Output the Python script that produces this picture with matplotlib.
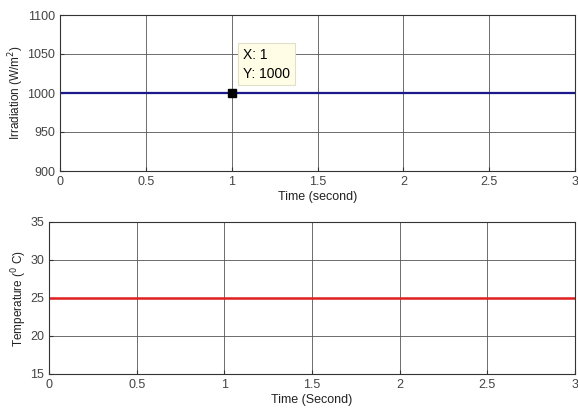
import numpy as np
import matplotlib.pyplot as plt

# simulation time and the two constant inputs
time_s = [0, 0.5, 1, 1.5, 2, 2.5, 3]
irradiance = [1000, 1000, 1000, 1000, 1000, 1000, 1000]
temperature = [25, 25, 25, 25, 25, 25, 25]
x_ticks = [0, 0.5, 1, 1.5, 2, 2.5, 3]
x_ticklabels = ['0', '0.5', '1', '1.5', '2', '2.5', '3']
irr_ticks = [900, 950, 1000, 1050, 1100]
temp_ticks = [15, 20, 25, 30, 35]
tip_x, tip_y = 1, 1000

plt.rcParams['font.family'] = ['Liberation Sans', 'DejaVu Sans']
plt.rcParams['font.size'] = 9

fig = plt.figure(figsize=(5.78, 4.16), dpi=100)
W, H = 578, 416
ax1 = fig.add_axes([60 / W, 1 - 171 / H, (575 - 60) / W, (171 - 15) / H])
ax2 = fig.add_axes([49 / W, 1 - 374 / H, (575 - 49) / W, (374 - 222) / H])


def style(ax):
    ax.grid(True, color='#555555', linewidth=0.6)
    ax.set_axisbelow(True)
    ax.tick_params(direction='in', length=3, colors='#333333', labelcolor='#444444')
    for s in ax.spines.values():
        s.set_color('#333333')
        s.set_linewidth(0.8)
    ax.set_xlim(0, 3)
    ax.set_xticks(x_ticks)
    ax.set_xticklabels(x_ticklabels)


ax1.plot(time_s, irradiance, color='#1a1a8c', linewidth=1.6)
ax1.set_ylim(900, 1100)
ax1.set_yticks(irr_ticks)
style(ax1)
ax1.set_xlabel('Time (second)', labelpad=2, color='#222222')
ax1.set_ylabel('Irradiation (W/m$^2$)', labelpad=1, color='#222222', fontsize=8.5)
ax1.plot([tip_x], [tip_y], marker='s', color='black', markersize=6)
ax1.annotate(f'X: {tip_x}\nY: {tip_y}', xy=(tip_x, tip_y), xytext=(8, 9),
             textcoords='offset points', fontsize=10, va='bottom', ha='left',
             linespacing=1.45,
             bbox=dict(boxstyle='square,pad=0.35', fc='#fffde6', ec='#e0e0c8', lw=0.8))

ax2.plot(time_s, temperature, color='#e01f1f', linewidth=1.8)
ax2.set_ylim(15, 35)
ax2.set_yticks(temp_ticks)
style(ax2)
ax2.set_xlabel('Time (Second)', labelpad=2, color='#222222')
ax2.set_ylabel('Temperature ($^0$ C)', labelpad=1, color='#222222', fontsize=8.5)

plt.savefig('out.png', dpi=100)
